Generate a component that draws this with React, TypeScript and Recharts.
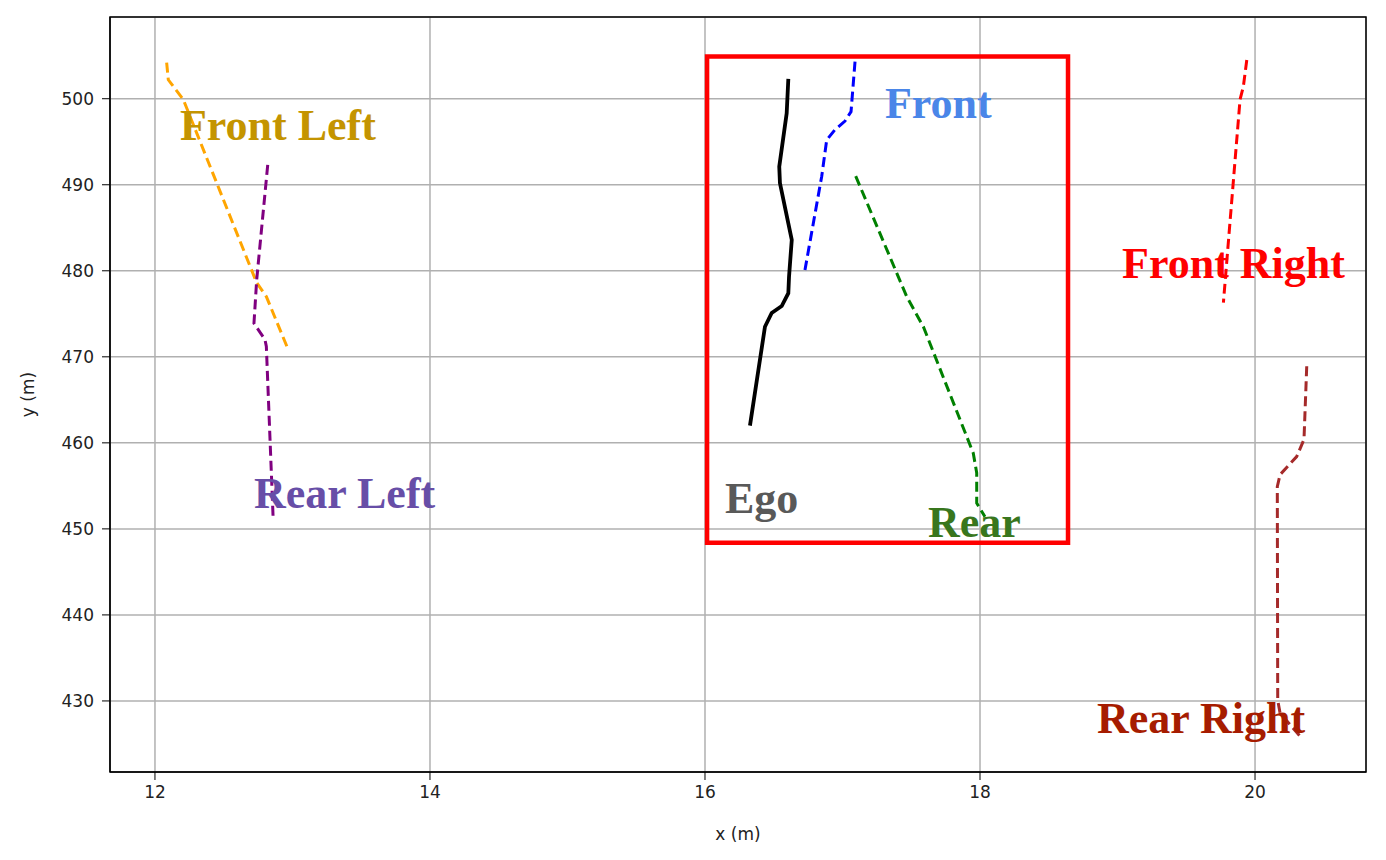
import React from "react";
import {
  LineChart,
  Line,
  XAxis,
  YAxis,
  CartesianGrid,
  ReferenceArea,
  ReferenceDot,
} from "recharts";

// trajectory samples (x, y in metres)
const egoX = [16.606, 16.594, 16.54, 16.545, 16.606, 16.631, 16.611, 16.606, 16.558, 16.485, 16.436, 16.327];
const egoY = [502.3, 498.3, 492.1, 490.2, 485.5, 483.6, 479.3, 477.4, 475.9, 475.1, 473.5, 462.0];

const frontX = [17.091, 17.062, 17.018, 16.945, 16.885, 16.849, 16.727];
const frontY = [504.3, 498.5, 497.4, 496.4, 495.2, 491.0, 480.1];

const rearX = [17.096, 17.467, 17.588, 17.951, 17.976, 17.976, 18.036];
const rearY = [491.0, 477.0, 473.5, 458.8, 456.5, 453.0, 451.4];

const frontLeftX = [12.085, 12.097, 12.206, 12.74, 12.81, 12.97];
const frontLeftY = [504.2, 502.2, 499.9, 478.6, 477.0, 470.8];

const rearLeftX = [12.82, 12.74, 12.72, 12.8, 12.81, 12.86];
const rearLeftY = [492.3, 479.0, 473.9, 472.0, 471.2, 451.0];

const frontRightX = [19.94, 19.915, 19.891, 19.77];
const frontRightY = [504.5, 501.4, 499.9, 476.3];

const rearRightX = [20.376, 20.356, 20.303, 20.182, 20.162, 20.165, 20.182, 20.327];
const rearRightY = [468.9, 460.4, 458.4, 456.3, 454.9, 430.1, 428.6, 425.9];

const xTicks = [12, 14, 16, 18, 20];
const yTicks = [430, 440, 450, 460, 470, 480, 490, 500];

// highlighted region around ego
const boxX = [16.015, 18.64];
const boxY = [448.4, 504.9];

const labelNames = ["Front Left", "Front", "Front Right", "Rear Left", "Ego", "Rear", "Rear Right"];
const labelX = [12.182, 17.309, 19.033, 12.72, 16.145, 17.622, 18.851];
const labelY = [495.2, 497.8, 479.2, 452.4, 451.9, 449.1, 426.3];
const labelColors = ["#C49400", "#4A86E8", "#FF0000", "#674EA7", "#595959", "#38761D", "#A61C00"];

const zip = (xs: number[], ys: number[]) => xs.map((x, i) => ({ x, y: ys[i] }));

const tracks = [
  { name: "frontLeft", data: zip(frontLeftX, frontLeftY), color: "#FFA500", dash: "10 5" },
  { name: "rearLeft", data: zip(rearLeftX, rearLeftY), color: "#800080", dash: "10 5" },
  { name: "front", data: zip(frontX, frontY), color: "#0000FF", dash: "10 5" },
  { name: "rear", data: zip(rearX, rearY), color: "#008000", dash: "10 5" },
  { name: "frontRight", data: zip(frontRightX, frontRightY), color: "#FF0000", dash: "10 5" },
  { name: "rearRight", data: zip(rearRightX, rearRightY), color: "#A52A2A", dash: "10 5" },
  { name: "ego", data: zip(egoX, egoY), color: "#000000", dash: undefined },
];

const X_DOMAIN: [number, number] = [11.673, 20.807];
const Y_DOMAIN: [number, number] = [421.74, 509.5];

const tickStyle = { fontFamily: "DejaVu Sans", fontSize: 17, fill: "#222" };

export default function App() {
  return (
    <div style={{ position: "fixed", left: 0, top: 0, width: 1386, height: 860, background: "#fff" }}>
      <LineChart width={1386} height={860} margin={{ top: 17, right: 20, bottom: 0, left: 0 }}>
        <CartesianGrid stroke="#b0b0b0" strokeWidth={1.5} />
        <XAxis
          type="number"
          dataKey="x"
          domain={X_DOMAIN}
          ticks={xTicks}
          allowDataOverflow
          height={88}
          tickSize={8}
          tickMargin={6}
          stroke="#000"
          tick={tickStyle}
          label={{ value: "x (m)", position: "insideBottom", offset: 20, style: tickStyle }}
        />
        <YAxis
          type="number"
          dataKey="y"
          domain={Y_DOMAIN}
          ticks={yTicks}
          allowDataOverflow
          width={110}
          tickSize={8}
          tickMargin={8}
          stroke="#000"
          tick={tickStyle}
          label={{
            value: "y (m)",
            angle: -90,
            position: "insideLeft",
            offset: 28,
            style: { ...tickStyle, textAnchor: "middle" },
          }}
        />
        <ReferenceArea
          x1={X_DOMAIN[0]}
          x2={X_DOMAIN[1]}
          y1={Y_DOMAIN[0]}
          y2={Y_DOMAIN[1]}
          fill="none"
          stroke="#000"
          strokeWidth={1.5}
          fillOpacity={0}
        />
        {tracks.map((t) => (
          <Line
            key={t.name}
            data={t.data}
            dataKey="y"
            type="linear"
            stroke={t.color}
            strokeWidth={t.dash ? 3 : 3.8}
            strokeDasharray={t.dash}
            dot={false}
            activeDot={false}
            isAnimationActive={false}
          />
        ))}
        <ReferenceArea
          x1={boxX[0]}
          x2={boxX[1]}
          y1={boxY[0]}
          y2={boxY[1]}
          fill="none"
          fillOpacity={0}
          stroke="#FF0000"
          strokeWidth={4.5}
        />
        {labelNames.map((name, i) => (
          <ReferenceDot
            key={name}
            x={labelX[i]}
            y={labelY[i]}
            r={0}
            fill="none"
            stroke="none"
            label={(props: any) => (
              <text
                x={props.viewBox.x}
                y={props.viewBox.y}
                fill={labelColors[i]}
                fontFamily="'Liberation Serif', serif"
                fontWeight="bold"
                fontSize={44}
                textAnchor="start"
              >
                {name}
              </text>
            )}
          />
        ))}
      </LineChart>
    </div>
  );
}
